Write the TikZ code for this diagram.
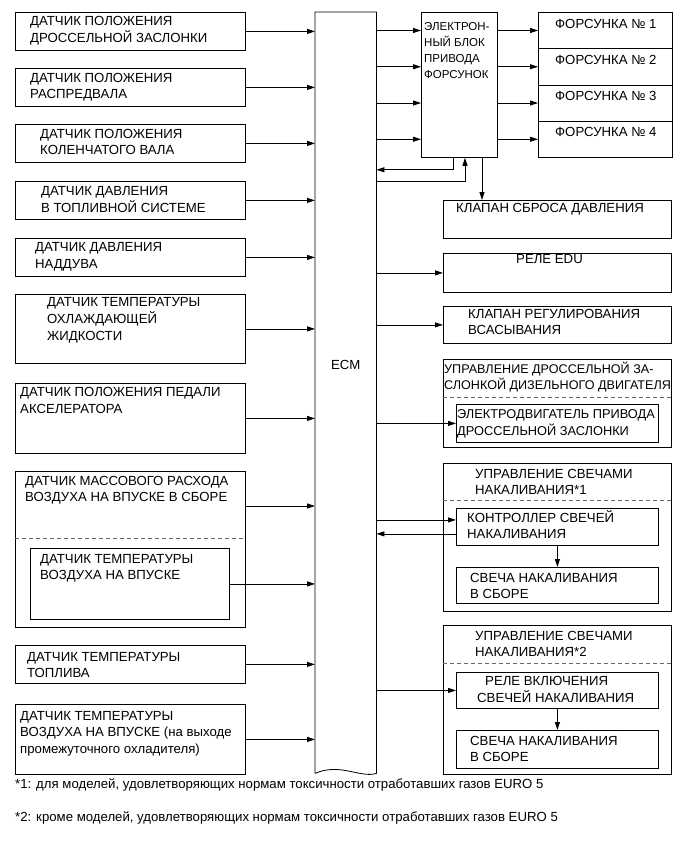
\documentclass[tikz,border=0pt]{standalone}
\usepackage{fontspec}
\setmainfont{Liberation Sans}
\usetikzlibrary{arrows.meta}
\tikzset{
  blk/.style={draw,line width=0.8pt,inner sep=0pt,anchor=north west},
  txt/.style={font=\fontsize{13.2}{16.5}\selectfont,align=left,anchor=north west,inner sep=0pt},
  sig/.style={-{Triangle[length=8pt,width=5pt]},line width=0.8pt},
  split/.style={line width=0.6pt,dash pattern=on 4pt off 3pt,black!60}, % sub-unit divider
}
\begin{document}
\begin{tikzpicture}[x=1pt,y=-1pt]
  \useasboundingbox (0,0) rectangle (690,855);
  % ECM column, torn bottom edge
  \node[anchor=north west,minimum width=61pt,minimum height=761pt,inner sep=0pt] (ecm) at (315,12) {};
  \draw[line width=0.8pt] (ecm.south west) -- (ecm.north west) -- (ecm.north east) -- (ecm.south east)
    .. controls +(-16,5) and +(25,-11) .. (ecm.south west);
  \node[font=\fontsize{13.2}{16.5}\selectfont] (ecmt) at (ecm.center |- 0,365) {ECM};

  % sensors, left column
  \foreach \n/\y/\dx/\dy/\t in {
    1/12/15/1.3/{ДАТЧИК ПОЛОЖЕНИЯ\\ДРОССЕЛЬНОЙ ЗАСЛОНКИ},
    2/68/15/2.3/{ДАТЧИК ПОЛОЖЕНИЯ\\РАСПРЕДВАЛА},
    3/124/25/2.6/{ДАТЧИК ПОЛОЖЕНИЯ\\КОЛЕНЧАТОГО ВАЛА},
    4/181/26/2.3/{ДАТЧИК ДАВЛЕНИЯ\\В ТОПЛИВНОЙ СИСТЕМЕ},
    5/238/20/2/{ДАТЧИК ДАВЛЕНИЯ\\НАДДУВА},
    9/645/12/4.3/{ДАТЧИК ТЕМПЕРАТУРЫ\\ТОПЛИВА}}{
    \node[blk,minimum width=230pt,minimum height=38pt] (s\n) at (15,\y) {};
    \node[txt] (t\n) at ([xshift=\dx pt,yshift=-\dy pt]s\n.north west) {\strut\t};
    \draw[sig] (s\n.east) -- (ecm.west |- s\n.east);
  }
  \node[blk,minimum width=230pt,minimum height=69pt] (s6) at (15,294) {};
  \node[txt] (t6) at ([xshift=32pt,yshift=-0.3pt]s6.north west)
    {\strut ДАТЧИК ТЕМПЕРАТУРЫ\\ОХЛАЖДАЮЩЕЙ\\ЖИДКОСТИ};
  \draw[sig] (s6.east) -- (ecm.west |- s6.east);
  \node[blk,minimum width=230pt,minimum height=70pt] (s7) at (15,383) {};
  \node[txt] (t7) at ([xshift=5pt,yshift=-2pt]s7.north west)
    {\strut ДАТЧИК ПОЛОЖЕНИЯ ПЕДАЛИ\\АКСЕЛЕРАТОРА};
  \draw[sig] (s7.east) -- (ecm.west |- s7.east);
  % MAF assembly with intake air temp sensor inside
  \node[blk,minimum width=230pt,minimum height=156pt] (s8) at (15,471) {};
  \node[txt] (t8) at ([xshift=10pt,yshift=-2.3pt]s8.north west)
    {\strut ДАТЧИК МАССОВОГО РАСХОДА\\ВОЗДУХА НА ВПУСКЕ В СБОРЕ};
  \draw[split] ([yshift=-67pt]s8.north west) -- ([yshift=-67pt]s8.north east);
  \coordinate (mafout) at ([yshift=-35pt]s8.north east);
  \draw[sig] (mafout) -- (ecm.west |- mafout);
  \node[blk,minimum width=199pt,minimum height=71pt] (s8i) at (30,548) {};
  \node[txt] (t8i) at ([xshift=10pt,yshift=-3.3pt]s8i.north west)
    {\strut ДАТЧИК ТЕМПЕРАТУРЫ\\ВОЗДУХА НА ВПУСКЕ};
  \draw[sig] (s8i.east) -- (ecm.west |- s8i.east);
  \node[blk,minimum width=230pt,minimum height=70pt] (s10) at (15,704) {};
  \node[txt] (t10) at ([xshift=5pt,yshift=-4.3pt]s10.north west)
    {\strut ДАТЧИК ТЕМПЕРАТУРЫ\\ВОЗДУХА НА ВПУСКЕ (на выходе\\промежуточного охладителя)};
  \draw[sig] (s10.east) -- (ecm.west |- s10.east);

  % injector driver and injectors
  \node[blk,minimum width=76pt,minimum height=145pt] (edu) at (421,12) {};
  \node[txt,font=\fontsize{11.5}{16}\selectfont] (tedu) at ([xshift=3pt,yshift=-7pt]edu.north west)
    {\strut ЭЛЕКТРОН-\\НЫЙ БЛОК\\ПРИВОДА\\ФОРСУНОК};
  \foreach \i in {1,...,4}{
    \node[blk,minimum width=134pt,minimum height=36.25pt] (inj\i) at (538,{12+36.25*(\i-1)}) {};
    \node[txt] (tinj\i) at ([xshift=17pt,yshift=-4.3pt]inj\i.north west) {\strut ФОРСУНКА № \i};
    \draw[sig] (ecm.east |- inj\i.west) -- (edu.west |- inj\i.west);
    \draw[sig] (edu.east |- inj\i.west) -- (inj\i.west);
  }
  \coordinate (fbout) at ([yshift=-12pt]edu.south west);
  \coordinate (fbin) at ([yshift=-24pt]edu.south west);
  \draw[sig] ([xshift=32pt]edu.south west) |- (ecm.east |- fbout);
  \draw[sig] (ecm.east |- fbin) -| ([xshift=44pt]edu.south west);

  % actuators, right column
  \node[blk,minimum width=228pt,minimum height=38pt] (valve) at (443,200) {};
  \node[txt] (tvalve) at ([xshift=13pt,yshift=-0.3pt]valve.north west) {\strut КЛАПАН СБРОСА ДАВЛЕНИЯ};
  \coordinate (vtop) at ([xshift=61pt]edu.south west);
  \draw[sig] (vtop) -- (vtop |- valve.north);
  \node[blk,minimum width=228pt,minimum height=39pt] (relay) at (443,253) {};
  \node[txt] (trelay) at ([xshift=73pt,yshift=1pt]relay.north west) {\strut РЕЛЕ EDU};
  \draw[sig] (ecm.east |- relay.west) -- (relay.west);
  \node[blk,minimum width=228pt,minimum height=37pt] (intake) at (443,306) {};
  \node[txt] (tintake) at ([xshift=25pt,yshift=-0.3pt]intake.north west)
    {\strut КЛАПАН РЕГУЛИРОВАНИЯ\\ВСАСЫВАНИЯ};
  \draw[sig] (ecm.east |- intake.west) -- (intake.west);

  % diesel throttle control
  \node[blk,minimum width=228pt,minimum height=88pt] (thr) at (443,359) {};
  \node[txt,font=\fontsize{12.6}{16.5}\selectfont] (tthr) at ([xshift=1pt,yshift=-2.3pt]thr.north west)
    {\strut УПРАВЛЕНИЕ ДРОССЕЛЬНОЙ ЗА-\\СЛОНКОЙ ДИЗЕЛЬНОГО ДВИГАТЕЛЯ};
  \draw[split] ([yshift=-38pt]thr.north west) -- ([yshift=-38pt]thr.north east);
  \node[blk,minimum width=202pt,minimum height=38pt] (tmotor) at (456,404) {};
  \node[txt,font=\fontsize{12.8}{16.5}\selectfont] (ttmotor) at ([xshift=1pt,yshift=-2.3pt]tmotor.north west)
    {\strut ЭЛЕКТРОДВИГАТЕЛЬ ПРИВОДА\\ДРОССЕЛЬНОЙ ЗАСЛОНКИ};
  \draw[sig] (ecm.east |- tmotor.west) -- (tmotor.west);

  % glow control *1
  \node[blk,minimum width=228pt,minimum height=148pt] (glowA) at (443,463) {};
  \node[txt] (tglowA) at ([xshift=32pt,yshift=-3.3pt]glowA.north west)
    {\strut УПРАВЛЕНИЕ СВЕЧАМИ\\НАКАЛИВАНИЯ*1};
  \draw[split] ([yshift=-37pt]glowA.north west) -- ([yshift=-37pt]glowA.north east);
  \node[blk,minimum width=202pt,minimum height=37pt] (ctrl) at (456,508) {};
  \node[txt] (tctrl) at ([xshift=11pt,yshift=-2.3pt]ctrl.north west)
    {\strut КОНТРОЛЛЕР СВЕЧЕЙ\\НАКАЛИВАНИЯ};
  \coordinate (cin) at ([yshift=7pt]ctrl.west);
  \coordinate (cout) at ([yshift=-7pt]ctrl.west);
  \draw[sig] (ecm.east |- cin) -- (cin);
  \draw[sig] (cout) -- (ecm.east |- cout);
  \node[blk,minimum width=202pt,minimum height=36pt] (plugA) at (456,567) {};
  \node[txt] (tplugA) at ([xshift=14pt,yshift=-3.3pt]plugA.north west)
    {\strut СВЕЧА НАКАЛИВАНИЯ\\В СБОРЕ};
  \draw[sig] (ctrl.south) -- (plugA.north);

  % glow control *2
  \node[blk,minimum width=228pt,minimum height=149pt] (glowB) at (443,625) {};
  \node[txt] (tglowB) at ([xshift=32pt,yshift=-3.3pt]glowB.north west)
    {\strut УПРАВЛЕНИЕ СВЕЧАМИ\\НАКАЛИВАНИЯ*2};
  \draw[split] ([yshift=-38pt]glowB.north west) -- ([yshift=-38pt]glowB.north east);
  \node[blk,minimum width=202pt,minimum height=36pt] (relayB) at (456,672) {};
  \node[txt] (trelayB) at ([xshift=21pt,yshift=-1.3pt]relayB.north west)
    {\strut\hspace*{8pt}РЕЛЕ ВКЛЮЧЕНИЯ\\СВЕЧЕЙ НАКАЛИВАНИЯ};
  \draw[sig] (ecm.east |- relayB.west) -- (relayB.west);
  \node[blk,minimum width=202pt,minimum height=38pt] (plugB) at (456,730) {};
  \node[txt] (tplugB) at ([xshift=14pt,yshift=-3.3pt]plugB.north west)
    {\strut СВЕЧА НАКАЛИВАНИЯ\\В СБОРЕ};
  \draw[sig] (relayB.south) -- (plugB.north);

  % footnotes
  \node[txt,anchor=west] (fn1) at (15,785)
    {*1: для моделей, удовлетворяющих нормам токсичности отработавших газов EURO 5};
  \node[txt,anchor=west] (fn2) at (15,818)
    {*2: кроме моделей, удовлетворяющих нормам токсичности отработавших газов EURO 5};
\end{tikzpicture}
\end{document}
